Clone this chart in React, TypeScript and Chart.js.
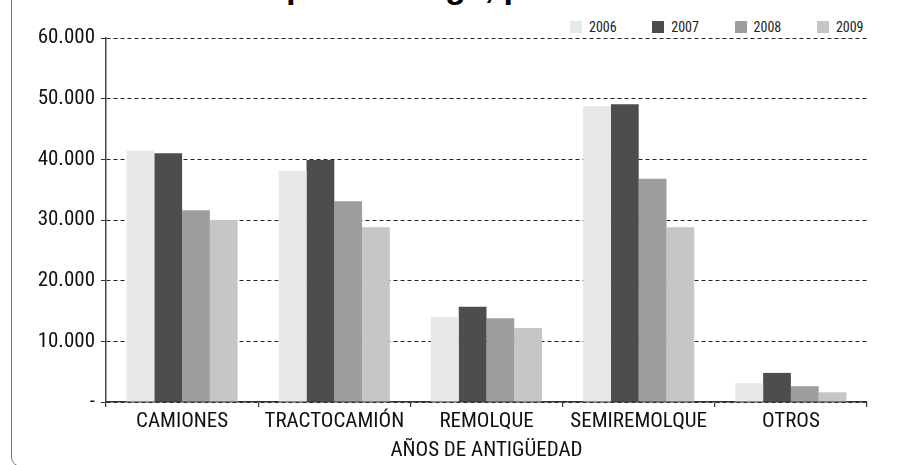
import React, { useEffect, useRef } from "react";
import { Chart, registerables } from "chart.js";

Chart.register(...registerables);

const categories = ["CAMIONES", "TRACTOCAMIÓN", "REMOLQUE", "SEMIREMOLQUE", "OTROS"];
const seriesNames = ["2006", "2007", "2008", "2009"];
const values2006 = [41400, 38100, 14000, 48800, 3100];
const values2007 = [41000, 39900, 15700, 49100, 4800];
const values2008 = [31600, 33100, 13800, 36800, 2600];
const values2009 = [30000, 28800, 12200, 28800, 1600];
const seriesColors = ["#e6e7e8", "#4d4d4f", "#9d9ea0", "#c5c6c8"];
const yMin = 0;
const yMax = 60000;
const yStep = 10000;
const xAxisTitle = "AÑOS DE ANTIGÜEDAD";
const chartTitle = "Parque de carga, por año";

const FONT = "'Liberation Sans Narrow', 'Roboto Condensed', 'Liberation Sans', sans-serif";

function formatTick(v: number): string {
  if (v === 0) return "-";
  return String(v).replace(/\B(?=(\d{3})+(?!\d))/g, ".");
}

export default function App() {
  const canvasRef = useRef<HTMLCanvasElement | null>(null);

  useEffect(() => {
    if (!canvasRef.current) return;
    const seriesValues = [values2006, values2007, values2008, values2009];
    const chart = new Chart(canvasRef.current, {
      type: "bar",
      data: {
        labels: categories,
        datasets: seriesNames.map((name, i) => ({
          label: name,
          data: seriesValues[i],
          backgroundColor: seriesColors[i],
          borderWidth: 0,
          categoryPercentage: 0.73,
          barPercentage: 1.0,
        })),
      },
      options: {
        animation: false,
        responsive: true,
        maintainAspectRatio: false,
        layout: { padding: { top: 38, right: 37, left: 0, bottom: 0 } },
        plugins: {
          legend: { display: false },
          tooltip: { enabled: false },
          title: { display: false },
        },
        scales: {
          x: {
            ticks: {
              color: "#111",
              font: { family: FONT, size: 21 },
              padding: 2,
              maxRotation: 0,
              autoSkip: false,
            },
            grid: {
              offset: true,
              drawOnChartArea: false,
              drawTicks: true,
              tickLength: 5,
              color: "#333",
              lineWidth: 1.2,
            },
            border: { display: true, color: "#333", width: 1.5 },
            title: {
              display: true,
              text: xAxisTitle,
              color: "#111",
              font: { family: FONT, size: 21 },
              padding: { top: 0, bottom: 2 },
            },
            afterFit: (s: any) => {
              s.height = 63;
            },
          },
          y: {
            min: yMin,
            max: yMax,
            ticks: {
              stepSize: yStep,
              color: "#111",
              font: { family: FONT, size: 21 },
              padding: 6,
              callback: (v: any) => formatTick(Number(v)),
            },
            grid: {
              color: "#222",
              lineWidth: 1,
              drawTicks: true,
              tickLength: 5,
              tickColor: "#333",
            },
            border: { display: true, color: "#444", width: 1.5, dash: [4, 3] },
            afterFit: (s: any) => {
              s.width = 106;
            },
          },
        },
      },
    });
    return () => chart.destroy();
  }, []);

  return (
    <div
      style={{
        position: "fixed",
        left: 0,
        top: 0,
        width: 904,
        height: 465,
        overflow: "hidden",
        background: "#fff",
      }}
    >
      <div
        style={{
          position: "absolute",
          left: 11,
          top: -40,
          width: 1100,
          height: 507,
          boxSizing: "border-box",
          border: "1.5px solid #777",
          borderRadius: 10,
        }}
      />
      <div
        style={{
          position: "absolute",
          left: 220,
          top: -30,
          fontFamily: "'Liberation Sans', Arial, sans-serif",
          fontWeight: "bold",
          fontSize: 34,
          lineHeight: "33px",
          whiteSpace: "nowrap",
          color: "#000",
        }}
      >
        {chartTitle}
      </div>
      {seriesNames.map((name, i) => (
        <div
          key={name}
          style={{
            position: "absolute",
            left: 570 + i * 82.3,
            top: 19,
            display: "flex",
            alignItems: "center",
            fontFamily: FONT,
            fontSize: 14,
            color: "#222",
            whiteSpace: "nowrap",
          }}
        >
          <span
            style={{
              display: "inline-block",
              width: 12,
              height: 12,
              background: seriesColors[i],
              marginRight: 7,
            }}
          />
          <span>{name}</span>
        </div>
      ))}
      <div style={{ position: "absolute", left: 0, top: 0, width: 904, height: 465 }}>
        <canvas ref={canvasRef} />
      </div>
    </div>
  );
}
